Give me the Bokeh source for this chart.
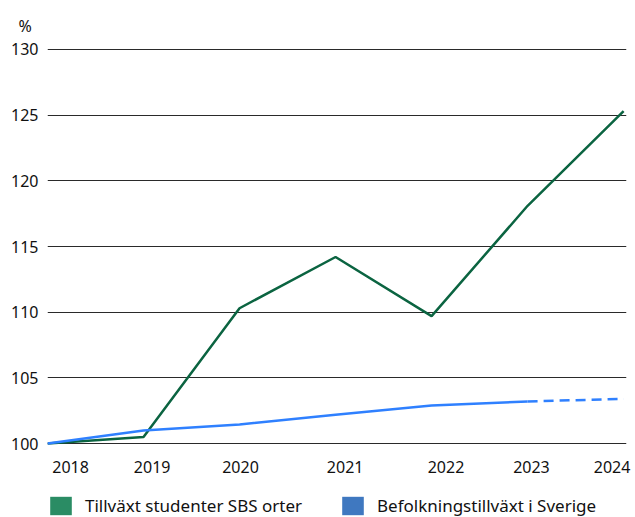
from bokeh.plotting import figure
from bokeh.layouts import column
from bokeh.models import (ColumnDataSource, FixedTicker, Legend, LegendItem)
from bokeh.embed import file_html
from bokeh.resources import INLINE

# Index values (2018 = 100)
years = [2018, 2019, 2020, 2021, 2022, 2023, 2024]
studenter = [100.0, 100.5, 110.3, 114.2, 109.7, 118.1, 125.3]
befolkning = [100.0, 101.0, 101.45, 102.2, 102.9, 103.2, 103.4]
year_labels = ["2018", "2019", "2020", "2021", "2022", "2023", "2024"]
y_ticks = [100, 105, 110, 115, 120, 125, 130]
series_names = ["Tillväxt studenter SBS orter", "Befolkningstillväxt i Sverige"]

# where each year label sits along the axis
label_pos = [2018.24, 2019.09, 2020.01, 2021.10, 2022.15, 2023.04, 2023.88]

FONT = "Noto Sans"
TEXT = "#111111"
GREEN_LINE = "#0b6441"
BLUE_LINE = "#2f80ff"
GREEN_KEY = "#2a8c64"
BLUE_KEY = "#3f78c0"

p = figure(width=635, height=480, x_range=(2018, 2024.03), y_range=(99.85, 130.15),
           output_backend="svg", toolbar_location=None,
           min_border_left=47, min_border_right=9,
           min_border_top=47, min_border_bottom=35)
p.outline_line_color = None
p.background_fill_color = "white"
p.border_fill_color = "white"

# unit marker above the value axis
p.title.text = "%"
p.title.align = "left"
p.title.offset = -29
p.title.standoff = 21
p.title.text_font = FONT
p.title.text_font_size = "16px"
p.title.text_font_style = "normal"
p.title.text_color = TEXT

# green series
p.line(years, studenter, line_color=GREEN_LINE, line_width=2.5)

# blue series: solid through 2023, dashed to 2024
p.line(years[:-1], befolkning[:-1], line_color=BLUE_LINE, line_width=2.5)
p.line(years[-2:], befolkning[-2:], line_color=BLUE_LINE, line_width=2.5,
       line_dash="10 6")

# axes
p.xaxis.ticker = FixedTicker(ticks=label_pos)
p.xaxis.major_label_overrides = {pos: lab for pos, lab in zip(label_pos, year_labels)}
p.xaxis.axis_line_color = None
p.xaxis.major_tick_line_color = None
p.xaxis.minor_tick_line_color = None
p.xaxis.major_label_text_font = FONT
p.xaxis.major_label_text_font_size = "16px"
p.xaxis.major_label_text_color = TEXT
p.xaxis.major_label_standoff = 9

p.yaxis.ticker = FixedTicker(ticks=y_ticks)
p.yaxis.axis_line_color = None
p.yaxis.major_tick_line_color = None
p.yaxis.minor_tick_line_color = None
p.yaxis.major_label_text_font = FONT
p.yaxis.major_label_text_font_size = "16px"
p.yaxis.major_label_text_color = TEXT
p.yaxis.major_label_standoff = 3

p.xgrid.grid_line_color = None
p.ygrid.grid_line_color = "#2a2a2a"
p.ygrid.grid_line_width = 1.2
p.ygrid.level = "underlay"

# legend strip underneath; the key swatches sit outside the strip's view
k = figure(width=635, height=37, output_backend="svg", toolbar_location=None,
           x_range=(0, 1), y_range=(0, 1),
           min_border_left=47, min_border_right=0,
           min_border_top=0, min_border_bottom=0)
k.axis.visible = False
k.grid.grid_line_color = None
k.outline_line_color = None
k.background_fill_color = "white"
k.border_fill_color = "white"

swatch = ColumnDataSource(dict(l=[2], r=[3], t=[3], b=[2]))
k1 = k.quad(left="l", right="r", top="t", bottom="b", source=swatch,
            fill_color=GREEN_KEY, line_color=None)
k2 = k.quad(left="l", right="r", top="t", bottom="b", source=swatch,
            fill_color=BLUE_KEY, line_color=None)
legend = Legend(items=[LegendItem(label=series_names[0], renderers=[k1]),
                       LegendItem(label=series_names[1], renderers=[k2])],
                orientation="horizontal", location=(0, 0),
                glyph_width=27, glyph_height=23, label_standoff=11, spacing=37,
                padding=0, margin=0, border_line_color=None,
                background_fill_alpha=0,
                label_text_font=FONT, label_text_font_size="17px",
                label_text_color=TEXT)
k.add_layout(legend)

layout = column(p, k, spacing=0)
open("out.html", "w").write(file_html(layout, INLINE))
